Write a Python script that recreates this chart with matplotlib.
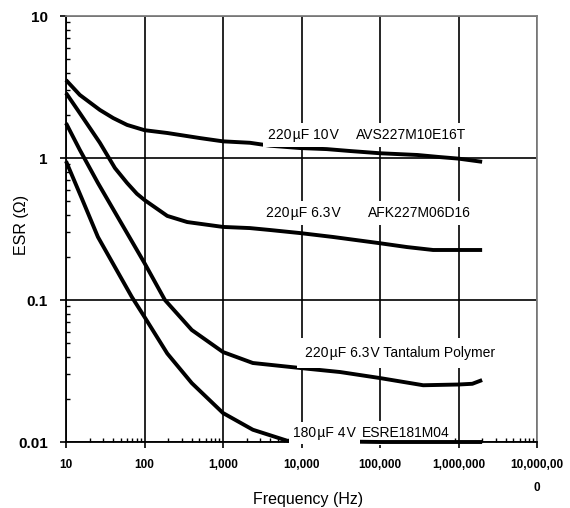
import numpy as np
import matplotlib
matplotlib.use("Agg")
import matplotlib.pyplot as plt
from matplotlib.ticker import LogLocator, NullFormatter

FONT = ['Liberation Sans', 'DejaVu Sans']
plt.rcParams['font.family'] = FONT

# ESR curves (Hz, ohm)
freq_avs = [10, 15, 27, 40, 60, 100, 195, 515, 1000, 2200, 4000, 9600, 21000, 41500, 1e5, 3e5, 5.8e5, 1e6, 2e6]
esr_avs = [3.54, 2.78, 2.18, 1.91, 1.71, 1.57, 1.50, 1.38, 1.31, 1.28, 1.22, 1.175, 1.155, 1.12, 1.08, 1.05, 1.015, 0.99, 0.94]

freq_afk = [10, 15, 27, 42, 60, 80, 100, 195, 350, 1000, 2200, 4000, 9600, 25000, 1e5, 2.2e5, 4.75e5, 1e6, 2e6]
esr_afk = [2.87, 2.07, 1.28, 0.85, 0.667, 0.56, 0.506, 0.391, 0.354, 0.327, 0.321, 0.311, 0.296, 0.278, 0.251, 0.236, 0.225, 0.225, 0.225]

freq_tap = [10, 15, 25.5, 100, 182, 310, 400, 1000, 2400, 9600, 31000, 1e5, 3.55e5, 1e6, 1.5e6, 2e6]
esr_tap = [1.76, 1.14, 0.667, 0.182, 0.1, 0.072, 0.0615, 0.043, 0.036, 0.0332, 0.0311, 0.0282, 0.0251, 0.0254, 0.0257, 0.0273]

freq_esre = [10, 16, 25.5, 69, 100, 195, 400, 1000, 2400, 6600, 1e5, 2e6]
esr_esre = [0.95, 0.515, 0.278, 0.105, 0.076, 0.042, 0.026, 0.016, 0.0122, 0.0102, 0.01, 0.01]

xtick_vals = [10, 100, 1e3, 1e4, 1e5, 1e6, 1e7]
xtick_labels = ['10', '100', '1,000', '10,000', '100,000', '1,000,000', '10,000,00\n0']
ytick_vals = [0.01, 0.1, 1, 10]
ytick_labels = ['0.01', '0.1', '1', '10']

fig = plt.figure(figsize=(5.7, 5.08), dpi=100)
ax = fig.add_axes([66/570, 1-442/508, (537-66)/570, (442-16)/508])

for f, e in [(freq_avs, esr_avs), (freq_afk, esr_afk), (freq_tap, esr_tap), (freq_esre, esr_esre)]:
    ax.plot(f, e, color='black', lw=2.8, solid_capstyle='butt', solid_joinstyle='round', clip_on=False, zorder=2)

ax.set_xscale('log'); ax.set_yscale('log')
ax.set_xlim(10, 1e7); ax.set_ylim(0.01, 10)

ax.set_xticks(xtick_vals, labels=xtick_labels)
ax.set_yticks(ytick_vals, labels=ytick_labels)
ax.xaxis.set_minor_locator(LogLocator(base=10, subs=np.arange(2, 10), numticks=20))
ax.yaxis.set_minor_locator(LogLocator(base=10, subs=np.arange(2, 10), numticks=20))
ax.xaxis.set_minor_formatter(NullFormatter()); ax.yaxis.set_minor_formatter(NullFormatter())

ax.tick_params(which='major', direction='out', length=4, width=1.2, colors='black')
ax.tick_params(axis='x', which='major', pad=8, labelsize=8.5)
ax.tick_params(axis='y', which='major', pad=9, labelsize=11)
ax.tick_params(which='minor', direction='in', length=3, width=1)
for lab in ax.get_xticklabels() + ax.get_yticklabels():
    lab.set_fontweight('bold')
for lab in ax.get_xticklabels():
    lab.set_linespacing(2.3)

ax.grid(True, which='major', color='black', lw=1.2)
ax.set_axisbelow(True)
for s in ['left', 'bottom']:
    ax.spines[s].set_linewidth(1.3); ax.spines[s].set_color('black')
for s in ['top', 'right']:
    ax.spines[s].set_linewidth(1.3); ax.spines[s].set_color('#808080')

ax.set_xlabel('Frequency (Hz)', fontsize=11.5)
ax.set_ylabel('ESR (\u03a9)', fontsize=11.5)
ax.xaxis.set_label_coords(0.514, -0.118)
ax.yaxis.set_label_coords(-0.079, 0.51)

box = dict(boxstyle='square,pad=0.35', fc='white', ec='none')
hs = '\u200a'
ax.text(3740, 1.45, f'220{hs}\u00b5F 10{hs}V', fontsize=10, va='center', bbox=box, zorder=3)
ax.text(49400, 1.45, 'AVS227M10E16T', fontsize=10, va='center', bbox=box, zorder=3)
ax.text(3530, 0.41, f'220{hs}\u00b5F 6.3{hs}V', fontsize=10, va='center', bbox=box, zorder=3)
ax.text(70300, 0.41, 'AFK227M06D16', fontsize=10, va='center', bbox=box, zorder=3)
ax.text(11100, 0.0424, f'220{hs}\u00b5F 6.3{hs}V Tantalum Polymer', fontsize=10, va='center',
        bbox=dict(boxstyle='square,pad=0.6', fc='white', ec='none'), zorder=3)
ax.text(7800, 0.0116, f'180{hs}\u00b5F 4{hs}V', fontsize=10, va='center',
        bbox=dict(boxstyle='square,pad=0.3', fc='white', ec='none'), zorder=3)
ax.text(58500, 0.0116, 'ESRE181M04', fontsize=10, va='center', bbox=box, zorder=1.9)

fig.savefig('out.png', dpi=100)
